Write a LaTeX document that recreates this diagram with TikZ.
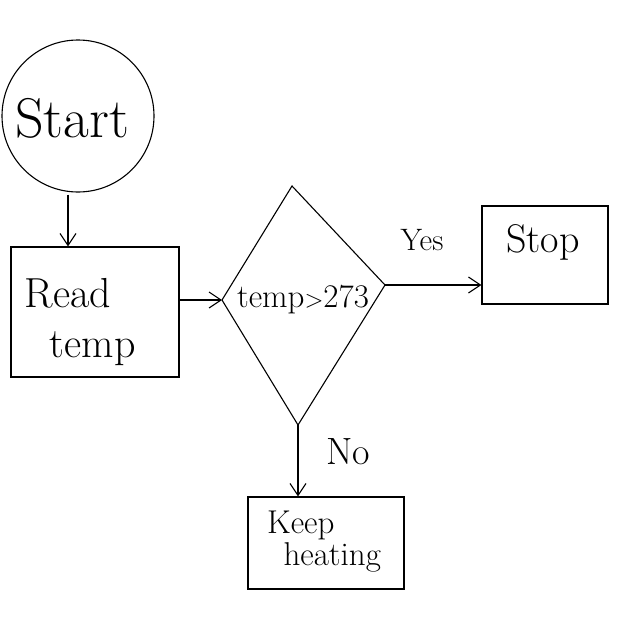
\documentclass[tikz,border=0pt]{standalone}
\usepackage{fontspec}
\setmainfont{Latin Modern Roman}
\usetikzlibrary{arrows.meta,shapes.geometric}
\begin{document}
\begin{tikzpicture}[x=1pt,y=-1pt,
  ink/.style={draw=black,line width=1.1pt},
  conn/.style={ink,-{Straight Barb[length=12pt,width=16pt]}},
  lbl/.style={inner sep=0pt}]
\useasboundingbox[fill=white] (0,0) rectangle (640,640);
% Start circle
\node[ink,circle,minimum size=152pt,inner sep=0pt] (start) at (78,116) {};
\node[lbl,font=\fontsize{56}{58}\selectfont] (starttxt) at (72,118) {Start};
% Read temp
\node[ink,rectangle,minimum width=168pt,minimum height=130pt,inner sep=0pt] (read) at (95,312) {};
\node[lbl,align=left,font=\fontsize{42}{44}\selectfont] (readtxt) at (80,322) {Read\\[6pt]\hspace*{0.6em}temp};
% decision
\coordinate (dl) at (222,300);
\coordinate (dt) at (292,186);
\coordinate (dr) at (385,285);
\coordinate (db) at (298,425);
\draw[ink] (dl) -- (dt) -- (dr) -- (db) -- cycle;
\node[lbl,font=\fontsize{33}{35}\selectfont] (dectxt) at (303,300) {temp$>$273};
% Stop
\node[ink,rectangle,minimum width=126pt,minimum height=98pt,inner sep=0pt] (stop) at (545,255) {};
\node[lbl,font=\fontsize{40}{42}\selectfont] (stoptxt) at (543,242) {Stop};
% Keep heating
\node[ink,rectangle,minimum width=156pt,minimum height=92pt,inner sep=0pt] (keep) at (326,543) {};
\node[lbl,align=left,font=\fontsize{33}{32}\selectfont] (keeptxt) at (324,542) {Keep\\\hspace*{0.5em}heating};
% connectors
\draw[conn] (start.south) ++(-10,2) coordinate (s1) -- (s1 |- read.north);
\draw[conn] (read.east |- dl) -- (dl);
\draw[conn] (dr) -- (stop.west |- dr);
\draw[conn] (db) -- (db |- keep.north);
% labels
\node[lbl,font=\fontsize{31}{33}\selectfont] (yes) at (422,240) {Yes};
\node[lbl,font=\fontsize{38}{40}\selectfont] (no) at (348,452) {No};
\end{tikzpicture}
\end{document}
